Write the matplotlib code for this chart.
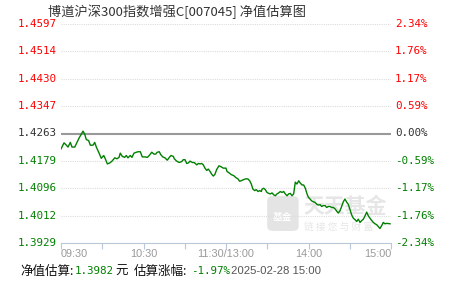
import matplotlib.pyplot as plt
from matplotlib.patches import FancyBboxPatch

# trading minutes since 09:30 (11:30/13:00 merged at 120) and estimated change in %
minutes = [0, 2.2, 3.6, 5.1, 6.8, 8.0, 10.0, 11.6, 13.1, 14.8, 16.0, 17.2, 18.4, 20.1, 21.3, 23.3,
           24.5, 25.7, 27.4, 29.3, 31.1, 32.2, 33.7, 35.4, 37.1, 39.1, 40.7, 42.2, 43.1, 44.6, 46.3,
           47.5, 48.7, 50.4, 51.6, 53.1, 54.8, 56.0, 57.7, 59.1, 61.1, 62.8, 64.2, 66.0, 67.6, 68.9,
           70.0, 71.5, 72.5, 74.0, 75.6, 77.3, 78.8, 80.0, 81.7, 82.4, 84.1, 86.0, 87.8, 88.9, 90.2,
           91.4, 92.6, 93.8, 95.5, 96.9, 98.7, 99.9, 101.1, 102.3, 103.5, 104.7, 106.0, 107.1, 108.4,
           109.6, 110.8, 112.0, 113.2, 114.9, 116.4, 118.0, 120.0, 120.7, 122.2, 123.9, 125.6, 127.1,
           128.7, 129.9, 131.1, 132.4, 134.3, 135.9, 137.2, 138.4, 139.6, 140.9, 142.0, 143.3, 144.5,
           145.7, 146.2, 147.4, 148.6, 149.8, 151.1, 152.2, 153.5, 154.7, 155.9, 157.1, 158.3, 159.5,
           160.7, 162.0, 163.1, 164.4, 165.6, 166.8, 168.0, 169.2, 170.4, 171.6, 172.9, 174.0, 175.3,
           176.5, 177.7, 178.9, 179.9, 181.1, 182.3, 183.5, 184.7, 186.0, 187.1, 188.4, 189.6, 190.8,
           192.0, 193.2, 194.4, 195.6, 196.9, 198.0, 199.3, 200.5, 201.7, 202.9, 204.1, 205.3, 206.5,
           207.8, 208.9, 210.2, 211.4, 212.6, 213.8, 215.1, 216.2, 217.5, 218.7, 219.9, 221.1, 222.3,
           223.5, 224.7, 226.0, 227.1, 228.4, 229.6, 230.8, 232.0, 233.2, 234.4, 235.6, 236.9, 239.3]
change = [-0.33, -0.20, -0.24, -0.29, -0.19, -0.29, -0.29, -0.19, -0.10, -0.01, 0.05, -0.01, -0.13,
          -0.15, -0.25, -0.25, -0.19, -0.29, -0.40, -0.53, -0.47, -0.54, -0.65, -0.63, -0.59, -0.52,
          -0.54, -0.51, -0.42, -0.49, -0.51, -0.47, -0.52, -0.47, -0.51, -0.42, -0.40, -0.39, -0.39,
          -0.50, -0.50, -0.51, -0.47, -0.40, -0.44, -0.44, -0.40, -0.39, -0.45, -0.50, -0.52, -0.57,
          -0.51, -0.47, -0.49, -0.54, -0.59, -0.62, -0.60, -0.56, -0.56, -0.64, -0.63, -0.59, -0.62,
          -0.62, -0.67, -0.64, -0.65, -0.64, -0.67, -0.74, -0.79, -0.76, -0.81, -0.87, -0.91, -0.87,
          -0.77, -0.69, -0.71, -0.74, -0.74, -0.81, -0.84, -0.88, -0.90, -0.94, -0.97, -1.02, -1.01,
          -0.99, -0.97, -0.97, -1.01, -1.08, -1.19, -1.22, -1.20, -1.24, -1.22, -1.24, -1.19, -1.17,
          -1.20, -1.26, -1.28, -1.29, -1.27, -1.31, -1.33, -1.29, -1.27, -1.24, -1.26, -1.24, -1.29,
          -1.33, -1.29, -1.28, -1.33, -1.29, -1.04, -1.08, -1.01, -1.06, -1.10, -1.10, -1.17, -1.29,
          -1.36, -1.40, -1.44, -1.46, -1.47, -1.51, -1.53, -1.52, -1.56, -1.54, -1.54, -1.58, -1.56,
          -1.56, -1.58, -1.58, -1.61, -1.66, -1.70, -1.65, -1.56, -1.46, -1.40, -1.47, -1.51, -1.63,
          -1.74, -1.81, -1.84, -1.88, -1.83, -1.90, -1.86, -1.83, -1.76, -1.68, -1.76, -1.81, -1.86,
          -1.90, -1.93, -1.95, -1.99, -2.03, -1.97, -1.90, -1.93, -1.92, -1.93]

pct_ticks = [2.34, 1.76, 1.17, 0.59, 0.00, -0.59, -1.17, -1.76, -2.34]
nav_labels = ['1.4597', '1.4514', '1.4430', '1.4347', '1.4263', '1.4179', '1.4096', '1.4012', '1.3929']
pct_labels = ['2.34%', '1.76%', '1.17%', '0.59%', '0.00%', '-0.59%', '-1.17%', '-1.76%', '-2.34%']
time_ticks = [0, 60, 120, 180, 240]
time_labels = ['09:30', '10:30', '11:30/13:00', '14:00', '15:00']

title = '博道沪深300指数增强C[007045] 净值估算图'
est_nav = '1.3982'
est_change = '-1.97%'
stamp = '2025-02-28 15:00'

cjk = ['Noto Sans CJK SC', 'DejaVu Sans']
mono = ['DejaVu Sans Mono']

W, H = 451, 281
fig = plt.figure(figsize=(W / 100, H / 100), dpi=100)
ax = fig.add_axes([61 / W, 1 - 243 / H, 330 / W, 219 / H])
ax.set_xlim(0, 240)
ax.set_ylim(-2.34, 2.34)

for s in ['top', 'right', 'left']:
    ax.spines[s].set_visible(False)
ax.spines['bottom'].set_color('#b8c8d8')

for v in pct_ticks[:-1]:
    if v == 0:
        ax.axhline(v, color='#999999', lw=1.5, zorder=1)
    else:
        ax.axhline(v, color='#dddddd', lw=0.8, ls=(0, (1, 1)), zorder=1)

# watermark
ax.add_patch(FancyBboxPatch((0.63, 0.06), 0.085, 0.15, boxstyle='round,pad=0.005,rounding_size=0.02',
                            transform=ax.transAxes, color='#e4e4e4', zorder=0, lw=0))
ax.text(0.672, 0.12, '基金', transform=ax.transAxes, fontsize=7, color='white', ha='center',
        va='center', family=cjk, fontweight='bold', zorder=0)
ax.text(0.735, 0.165, '天天基金', transform=ax.transAxes, fontsize=15, color='#e6e6e6',
        ha='left', va='center', family=cjk, fontweight='bold', zorder=0)
ax.text(0.737, 0.075, '链 接 您 与 财 富', transform=ax.transAxes, fontsize=7, color='#e6e6e6',
        ha='left', va='center', family=cjk, zorder=0)

ax.plot(minutes, change, color='#008000', lw=1, zorder=3)

ax.set_yticks([])
ax.set_xticks(range(0, 241, 30))
ax.set_xticklabels([])
ax.tick_params(axis='x', direction='out', length=4, color='#b8c8d8')

def tick_color(v):
    if v > 0:
        return '#ff0000'
    if v < 0:
        return '#008000'
    return '#333333'

for v, nl, pl in zip(pct_ticks, nav_labels, pct_labels):
    c = tick_color(v)
    ax.text(-0.012, v, nl, transform=ax.get_yaxis_transform(), ha='right', va='center',
            fontsize=7.8, color=c, family=mono)
    ax.text(1.012, v, pl, transform=ax.get_yaxis_transform(), ha='left', va='center',
            fontsize=7.8, color=c, family=mono)

for t, lab in zip(time_ticks, time_labels):
    ha = 'left' if t == 0 else ('right' if t == 240 else 'center')
    ax.text(t, -0.05, lab, transform=ax.get_xaxis_transform(), ha=ha, va='center',
            fontsize=7.8, color='#999999', family=['Liberation Sans'])

fig.text(177 / W, 1 - 12 / H, title, ha='center', va='center', fontsize=9.5, color='#333333',
         family=cjk)

yb = 1 - 271 / H
fig.text(20 / W, yb, '净值估算:', ha='left', va='center', fontsize=9, color='#111111', family=cjk)
fig.text(75 / W, yb, est_nav, ha='left', va='center', fontsize=7.8, color='#008000', family=mono)
fig.text(115 / W, yb, '元', ha='left', va='center', fontsize=9, color='#111111', family=cjk)
fig.text(134 / W, yb, '估算涨幅:', ha='left', va='center', fontsize=9, color='#111111', family=cjk)
fig.text(191 / W, yb, est_change, ha='left', va='center', fontsize=7.8, color='#008000', family=mono)
fig.text(231 / W, yb, stamp, ha='left', va='center', fontsize=8.2, color='#555555',
         family=['Liberation Sans'])

fig.savefig('out.png', dpi=100)
